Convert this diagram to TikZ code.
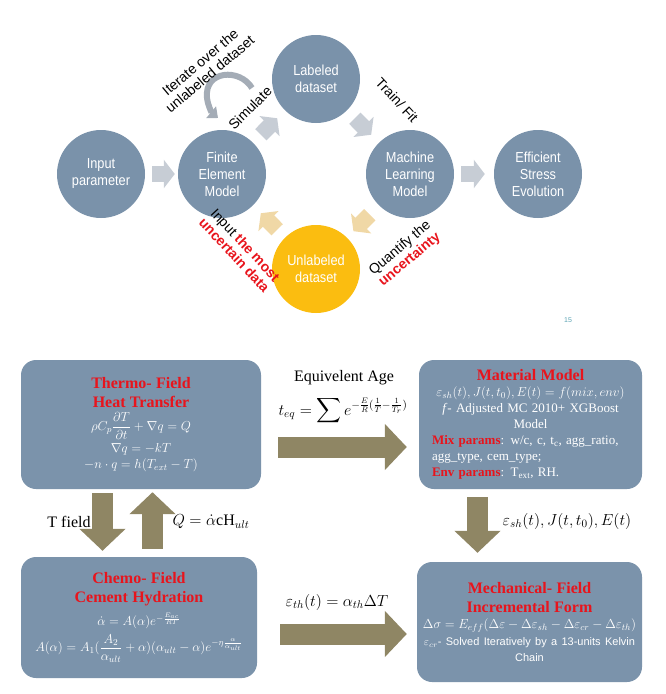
\RequirePackage{fix-cm}
\documentclass[tikz,border=0pt]{standalone}
\usepackage[dvipsnames]{xcolor}
\usepackage{amsmath}
\usepackage{fontspec}
\setmainfont{Liberation Serif}
\setsansfont{Liberation Sans}
\newfontfamily\narrowsans[FakeStretch=0.88]{Liberation Sans}
\usetikzlibrary{arrows.meta}

\definecolor{slate}{HTML}{7A92AA}
\definecolor{boxslate}{HTML}{7B93AB}
\definecolor{lightflow}{HTML}{C7CDD5}
\definecolor{tanflow}{HTML}{F0D8A6}
\definecolor{goldfill}{HTML}{FBBD10}
\definecolor{fieldarrow}{HTML}{8F8664}
\definecolor{loopgray}{HTML}{A4ACB6}
\definecolor{hotred}{HTML}{E8141C}
\definecolor{pagenum}{HTML}{5BA3B3}

\newcommand\fieldtitle[1]{{\color{hotred}\bfseries\fontsize{16}{19}\selectfont #1}}
\newcommand\redbf[1]{{\color{hotred}\bfseries #1}}

\begin{document}
\begin{tikzpicture}[x=1pt, y=-1pt,
    bubble/.style={circle, fill=slate, minimum size=88pt, inner sep=0pt,
      align=center, text=white, font=\narrowsans\fontsize{14.5}{17}\selectfont},
    flow/.style={draw=lightflow, line width=16pt,
      -{Triangle[length=11pt, width=28pt]}},
    backflow/.style={flow, draw=tanflow},
    iterloop/.style={draw=loopgray, line width=6pt,
      -{Triangle[length=9pt, width=15pt]}},
    steplabel/.style={font=\sffamily\fontsize{14}{15}\selectfont,
      align=center, inner sep=0pt},
    fieldbox/.style={rectangle, rounded corners=15pt, fill=boxslate,
      text=white, inner sep=0pt, font=\fontsize{13}{16}\selectfont},
    bigarrow/.style={draw=fieldarrow, line width=21pt,
      -{Triangle[length=22pt, width=45pt]}},
    mathlabel/.style={font=\fontsize{16}{19}\selectfont, inner sep=0pt}]
  \useasboundingbox (0,0) rectangle (665,694);

  \node[bubble] (input) at (101,174) {Input\\parameter};
  \node[bubble] (fem) at (222,174) {Finite\\Element\\Model};
  \node[bubble] (labeled) at (316,79) {Labeled\\dataset};
  \node[bubble] (ml) at (410,174) {Machine\\Learning\\Model};
  \node[bubble] (efficient) at (538,174) {Efficient\\Stress\\Evolution};
  \node[bubble, fill=goldfill] (unlabeled) at (316,269) {Unlabeled\\dataset};

  \draw[flow, shorten <=7pt, shorten >=3pt] (input) -- (fem);
  \draw[flow, shorten <=11pt, shorten >=11pt] (fem) -- (labeled);
  \draw[flow, shorten <=11pt, shorten >=11pt] (labeled) -- (ml);
  \draw[flow, shorten <=7pt, shorten >=9pt] (ml) -- (efficient);
  \draw[backflow, shorten <=11pt, shorten >=11pt] (unlabeled) -- (fem);
  \draw[backflow, shorten <=13pt, shorten >=9pt] (ml) -- (unlabeled);

  \coordinate (loopstart) at (252,88);
  \coordinate (loopend) at (218,118);
  \draw[iterloop] (loopstart) .. controls (240,68) and (204,70) .. (207,98)
    .. controls (208,106) and (212,113) .. (loopend);

  \node[steplabel, rotate=40] (iterate) at (205,68) {Iterate over the\\unlabeled dataset};
  \node[steplabel, rotate=45] (simulate) at (250,108) {Simulate};
  \node[steplabel, rotate=-47] (train) at (397,100) {Train/ Fit};
  \node[steplabel, rotate=-47] (inputmost) at (240,250) {Input \redbf{the most}\\\redbf{uncertain data}};
  \node[steplabel, rotate=40] (quantify) at (405,254) {Quantify the\\\redbf{uncertainty}};
  \node[font=\sffamily\fontsize{7}{8}\selectfont, text=pagenum] (slideno) at (568,320) {15};

  \node[fieldbox, minimum width=240pt, minimum height=129pt, text width=230pt] (thermo) at (141,424.5)
    {\centering\fieldtitle{Thermo- Field}\\[3pt] \fieldtitle{Heat Transfer}\\[4pt]
     $\rho C_p\dfrac{\partial T}{\partial t}+\nabla q=Q$\\[3pt]
     $\nabla q=-kT$\\
     $-n\cdot q=h(T_{ext}-T)$\par};
  \node[fieldbox, minimum width=223pt, minimum height=129pt, text width=197pt] (material) at (530.5,424.5)
    {\centering\fieldtitle{Material Model}\\
     $\varepsilon_{sh}(t),J(t,t_0),E(t)=f(mix,env)$\\
     \textit{f}- Adjusted MC 2010+ XGBoost\\ Model\par
     \raggedright\redbf{Mix params}: w/c, c, t\textsubscript{c}, agg\_ratio,\\
     agg\_type, cem\_type;\\
     \redbf{Env params}: T\textsubscript{ext}, RH.\par};
  \node[fieldbox, minimum width=236pt, minimum height=121pt, text width=228pt] (chemo) at (139,617.5)
    {\centering\fieldtitle{Chemo- Field}\\[3pt] \fieldtitle{Cement Hydration}\\[6pt]
     $\dot\alpha=A(\alpha)e^{-\frac{E_{ac}}{RT}}$\\[4pt]
     $A(\alpha)=A_1(\dfrac{A_2}{\alpha_{ult}}+\alpha)(\alpha_{ult}-\alpha)e^{-\eta\frac{\alpha}{\alpha_{ult}}}$\par};
  \node[fieldbox, minimum width=225pt, minimum height=120pt, text width=221pt] (mechanical) at (529.5,622)
    {\centering\fieldtitle{Mechanical- Field}\\[3pt] \fieldtitle{Incremental Form}\\
     $\Delta\sigma=E_{eff}(\Delta\varepsilon-\Delta\varepsilon_{sh}-\Delta\varepsilon_{cr}-\Delta\varepsilon_{th})$\\[1pt]
     {\sffamily\fontsize{11}{13}\selectfont$\varepsilon_{cr}$- Solved Iteratively by a 13-units Kelvin}\\
     {\sffamily\fontsize{11}{13}\selectfont Chain}\par};

  \draw[bigarrow, shorten <=17pt, shorten >=12pt]
    ([yshift=-22.5pt]thermo.east) -- ([yshift=-22.5pt]thermo.east -| material.west);
  \draw[bigarrow, shorten <=23pt, shorten >=10pt]
    ([yshift=-16.5pt]chemo.east) -- ([yshift=-16.5pt]chemo.east -| mechanical.west);
  \draw[bigarrow, shorten <=4pt, shorten >=6pt]
    ([xshift=-38.5pt]thermo.south) -- ([xshift=-38.5pt]thermo.south |- chemo.north);
  \draw[bigarrow, shorten <=8pt, shorten >=3pt]
    ([xshift=11.5pt]thermo.south |- chemo.north) -- ([xshift=11.5pt]thermo.south);
  \draw[bigarrow, shorten <=8pt, shorten >=9pt]
    ([xshift=-53pt]material.south) -- ([xshift=-53pt]material.south |- mechanical.north);

  \node[mathlabel] (agetitle) at (344,378) {Equivelent Age};
  \node[mathlabel] (ageformula) at (343,411)
    {$t_{eq}=\displaystyle\sum e^{-\frac{E}{R}(\frac{1}{T}-\frac{1}{T_r})}$};
  \node[mathlabel] (tfield) at (69,522) {T field};
  \node[mathlabel] (heatsource) at (211,522) {$Q=\dot{\alpha}\mathrm{cH}_{ult}$};
  \node[mathlabel] (materialout) at (567,521) {$\varepsilon_{sh}(t),J(t,t_0),E(t)$};
  \node[mathlabel] (thermalstrain) at (337,602) {$\varepsilon_{th}(t)=\alpha_{th}\Delta T$};
\end{tikzpicture}
\end{document}
